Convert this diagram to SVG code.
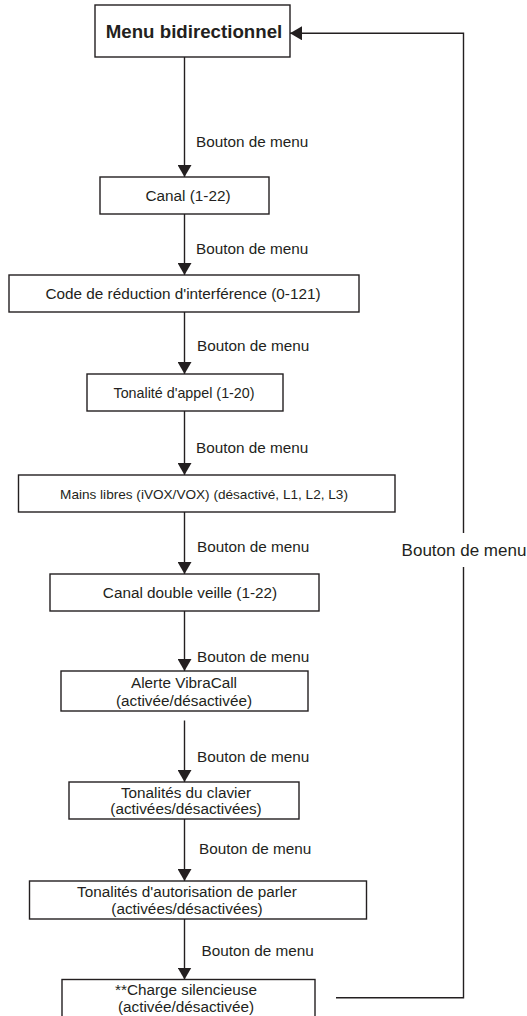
<svg xmlns="http://www.w3.org/2000/svg" width="527" height="1016" viewBox="0 0 527 1016">
  <defs>
    <marker id="arr" markerUnits="userSpaceOnUse" markerWidth="12" markerHeight="14" refX="12" refY="7" orient="auto">
      <path d="M0,0 L12,7 L0,14 Z" fill="#231f20"/>
    </marker>
  </defs>
  <style>
    .box { fill: #ffffff; stroke: #231f20; stroke-width: 1.4; }
    .t { font-family: "Liberation Sans", Arial, sans-serif; font-size: 15.3px; fill: #231f20; text-anchor: middle; }
    .lbl { font-family: "Liberation Sans", Arial, sans-serif; font-size: 15.3px; fill: #231f20; }
    .edge { fill: none; stroke: #231f20; stroke-width: 1.4; }
  </style>
  <rect x="0" y="0" width="527" height="1016" fill="#ffffff"/>

  <g id="connectors">
    <line class="edge" x1="184.5" y1="57" x2="184.5" y2="177" marker-end="url(#arr)"/>
    <line class="edge" x1="184.5" y1="214" x2="184.5" y2="275" marker-end="url(#arr)"/>
    <line class="edge" x1="184.5" y1="312" x2="184.5" y2="374" marker-end="url(#arr)"/>
    <line class="edge" x1="184.5" y1="411" x2="184.5" y2="475" marker-end="url(#arr)"/>
    <line class="edge" x1="184.5" y1="512" x2="184.5" y2="574" marker-end="url(#arr)"/>
    <line class="edge" x1="184.5" y1="611" x2="184.5" y2="671" marker-end="url(#arr)"/>
    <line class="edge" x1="184.5" y1="720.5" x2="184.5" y2="782" marker-end="url(#arr)"/>
    <line class="edge" x1="184.5" y1="819" x2="184.5" y2="881" marker-end="url(#arr)"/>
    <line class="edge" x1="184.5" y1="919" x2="184.5" y2="979.5" marker-end="url(#arr)"/>
    <path class="edge" d="M336,997.7 H463.5 V567"/>
    <path class="edge" d="M463.5,533 V33.3 H290" marker-end="url(#arr)"/>
    <text class="lbl" x="196" y="147">Bouton de menu</text>
    <text class="lbl" x="196" y="254">Bouton de menu</text>
    <text class="lbl" x="197" y="350.5">Bouton de menu</text>
    <text class="lbl" x="196" y="453">Bouton de menu</text>
    <text class="lbl" x="197" y="552">Bouton de menu</text>
    <text class="lbl" x="197" y="662">Bouton de menu</text>
    <text class="lbl" x="197" y="762">Bouton de menu</text>
    <text class="lbl" x="199" y="853.5">Bouton de menu</text>
    <text class="lbl" x="201.5" y="955.5">Bouton de menu</text>
    <text class="t" x="464" y="556" style="font-size:17px">Bouton de menu</text>
  </g>

  <g id="n0">
    <rect class="box" x="95" y="5" width="195" height="52"/>
    <text class="t" x="194" y="37.5" style="font-weight:bold;font-size:18.7px">Menu bidirectionnel</text>
  </g>
  <g id="n1">
    <rect class="box" x="100" y="177" width="169" height="37"/>
    <text class="t" x="188" y="201">Canal (1-22)</text>
  </g>
  <g id="n2">
    <rect class="box" x="9" y="275" width="350" height="37"/>
    <text class="t" x="183" y="299">Code de réduction d'interférence (0-121)</text>
  </g>
  <g id="n3">
    <rect class="box" x="87" y="374" width="196" height="37"/>
    <text class="t" x="184" y="397.5" style="font-size:14.3px">Tonalité d'appel (1-20)</text>
  </g>
  <g id="n4">
    <rect class="box" x="18.5" y="475" width="376.5" height="37"/>
    <text class="t" x="204" y="498.5" style="font-size:13.6px">Mains libres (iVOX/VOX) (désactivé, L1, L2, L3)</text>
  </g>
  <g id="n5">
    <rect class="box" x="50" y="574" width="269" height="37"/>
    <text class="t" x="190" y="598">Canal double veille (1-22)</text>
  </g>
  <g id="n6">
    <rect class="box" x="61" y="671" width="247" height="40"/>
    <text class="t" x="184" y="688">Alerte VibraCall</text>
    <text class="t" x="184" y="705.5">(activée/désactivée)</text>
  </g>
  <g id="n7">
    <rect class="box" x="69" y="782" width="230" height="37"/>
    <text class="t" x="186" y="797.5">Tonalités du clavier</text>
    <text class="t" x="186" y="814">(activées/désactivées)</text>
  </g>
  <g id="n8">
    <rect class="box" x="29.5" y="881" width="337" height="38"/>
    <text class="t" x="187" y="896.5">Tonalités d'autorisation de parler</text>
    <text class="t" x="187" y="913.5">(activées/désactivées)</text>
  </g>
  <g id="n9">
    <rect class="box" x="62" y="979.5" width="253" height="40"/>
    <text class="t" x="186" y="995">**Charge silencieuse</text>
    <text class="t" x="186" y="1011.5">(activée/désactivée)</text>
  </g>
</svg>
